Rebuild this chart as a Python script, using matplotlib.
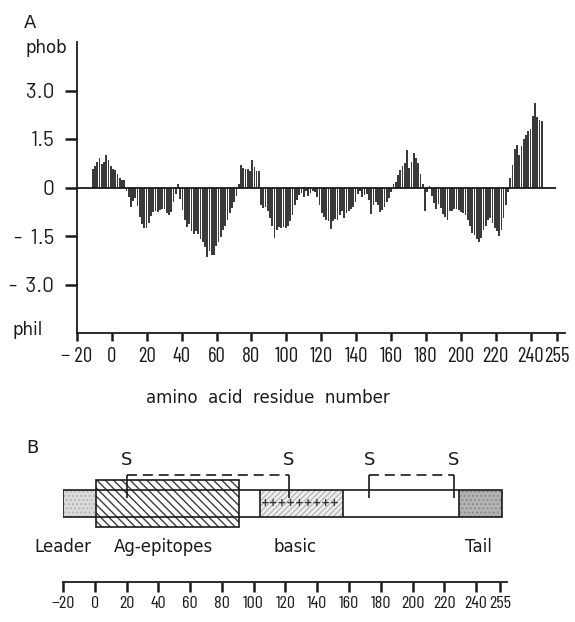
import numpy as np
import matplotlib
matplotlib.use("Agg")
import matplotlib.pyplot as plt
from matplotlib.patches import Rectangle
from matplotlib import font_manager as fm

# ---------------- data ----------------
# Panel A: hydropathy profile (one bar per plotted window position)
hydro = [
    0.58, 0.66, 0.78, 0.9, 0.74, 0.8, 1.02, 0.86, 0.68, 0.56, 0.55, 0.42, 0.28, 0.24, 0.22,
    -0.12, -0.3, -0.6, -0.42, -0.32, -0.58, -0.9, -1.12, -1.25, -1.25, -1.1, -0.88, -0.75,
    -0.72, -0.76, -0.7, -0.66, -0.68, -0.8, -0.84, -0.75, -0.45, -0.2,
    0.12,
    -0.35, -0.7, -1.0, -1.22, -1.12, -1.33, -1.45, -1.33, -1.45, -1.58, -1.68, -1.85, -2.15,
    -1.96, -2.1, -2.08, -1.82, -1.68, -1.52, -1.3, -1.18, -1.0, -0.8, -0.62, -0.45, -0.25,
    0.12, 0.7, 0.6, 0.58, 0.56, 0.5, 0.86, 0.62, 0.5, 0.52,
    -0.55, -0.62, -0.6, -0.72, -0.95, -1.2, -1.55, -1.3, -1.22, -1.26, -1.22, -1.26, -1.18,
    -1.04, -0.85, -0.55, -0.4, -0.22, -0.18, -0.28, -0.1, -0.25, -0.18, -0.1, -0.15, -0.3,
    -0.55, -0.78, -0.9, -1.0, -1.05, -1.28, -1.05, -0.98, -1.0, -0.85, -0.72, -0.95, -0.8,
    -0.72, -0.66, -0.6, -0.45, -0.2, -0.1, -0.3, -0.22, -0.2, -0.38, -0.82, -0.55, -0.45,
    -0.55, -0.75, -0.7, -0.6, -0.45, -0.32, -0.15,
    0.12, 0.18, 0.38, 0.55, 0.68, 0.75, 1.15, 0.6, 0.78, 1.08, 0.9, 0.75, 0.42, 0.1,
    -0.72, -0.15, 0.05, -0.25, -0.48, -0.65, -0.5, -0.62, -0.82, -0.9, -1.0, -0.72, -0.72,
    -0.68, -0.68, -0.7, -0.76, -0.78, -0.85, -1.0, -1.2, -1.4, -1.48, -1.6, -1.7, -1.55,
    -1.3, -1.2, -1.0, -0.95, -1.1, -1.25, -1.35, -1.5, -1.3, -0.95, -0.55, -0.15,
    0.3, 0.7, 1.2, 1.3, 1.02, 1.28, 1.5, 1.62, 1.75, 1.82, 2.2, 2.62, 2.18, 2.1, 2.05,
]
res_first, res_last = -11.0, 246.4

xticks = [-20, 0, 20, 40, 60, 80, 100, 120, 140, 160, 180, 200, 220, 240, 255]
xticklabels_A = ["\u2212 20"] + [str(v) for v in xticks[1:]]
xticklabels_B = ["\u221220"] + [str(v) for v in xticks[1:]]
yticks = [-3.0, -1.5, 0, 1.5, 3.0]
yticklabels = ["-  3.0", "-  1.5", "0", "1.5", "3.0"]

# Panel B: protein domain map
protein_span = (-20, 256)
leader = (-20, 1)
epitopes = (0.8, 90.8)
basic = (104, 156.2)
tail = (229.2, 256)
cys_pairs = [(20.3, 122.2), (172.6, 226.0)]
domain_labels = ["Leader", "Ag-epitopes", "basic", "Tail"]
domain_label_x = [-20, 43.5, 126, 241.5]

# ---------------- fonts ----------------
avail = {f.name for f in fm.fontManager.ttflist}


def pick(cands, default="DejaVu Sans"):
    for c in cands:
        if c in avail:
            return c
    return default


F_COND = pick(["Barlow Condensed", "Roboto Condensed", "Archivo Narrow",
               "PT Sans Narrow", "Fira Sans Condensed", "Liberation Sans"])
F_YNUM = pick(["Barlow", "Barlow Semi Condensed", "Roboto", "Liberation Sans"])
if F_COND == "Barlow Condensed":
    szA, szB = 15, 13
elif F_COND in ("Roboto Condensed", "Archivo Narrow", "PT Sans Narrow",
                "Fira Sans Condensed"):
    szA, szB = 13, 11
else:
    szA, szB = 10.5, 9
szY = 15 if F_YNUM == "Barlow" else 12.5

# ---------------- figure ----------------
W, H = 575, 622
fig = plt.figure(figsize=(W / 100, H / 100), dpi=100)


def px_axes(l, t, r, b):
    return fig.add_axes([l / W, 1 - b / H, (r - l) / W, (b - t) / H])


FS = 12
ink = "#1a1a1a"

# ---- Panel A ----
axA = px_axes(77, 42, 565, 333)
pos = np.linspace(res_first, res_last, len(hydro))
axA.bar(pos, hydro, width=1.0, color="#3a3a3a", linewidth=0)
axA.hlines(0, -20, 254.5, color=ink, lw=1.3)
axA.set_xlim(-20, 259.7)
axA.set_ylim(-4.5, 4.5)
for s in ("top", "right"):
    axA.spines[s].set_visible(False)
for s in ("left", "bottom"):
    axA.spines[s].set_linewidth(1.3)
    axA.spines[s].set_color(ink)
axA.set_xticks(xticks)
axA.set_xticklabels(xticklabels_A, fontsize=szA, family=F_COND)
axA.set_yticks(yticks)
axA.set_yticklabels(yticklabels, fontsize=szY, family=F_YNUM)
axA.tick_params(axis="x", direction="out", length=6, width=1.8, pad=4, colors=ink)
axA.tick_params(axis="y", direction="out", length=8.5, width=1.8, pad=8, colors=ink)

fig.text(30 / W, 1 - 23 / H, "A", ha="center", va="center", fontsize=13, color=ink)
fig.text(46 / W, 1 - 48 / H, "phob", ha="center", va="center", fontsize=FS, color=ink)
fig.text(28 / W, 1 - 330 / H, "phil", ha="center", va="center", fontsize=FS, color=ink)
fig.text(268 / W, 1 - 398 / H, "amino  acid  residue  number", ha="center",
         va="center", fontsize=FS, color=ink)

# ---- Panel B ----
axB = px_axes(63, 430, 507, 582)
axB.set_xlim(-20, 259.4)
axB.set_ylim(0, 152)
for s in ("top", "right", "left"):
    axB.spines[s].set_visible(False)
axB.spines["bottom"].set_linewidth(1.3)
axB.spines["bottom"].set_color(ink)
axB.set_yticks([])
axB.set_xticks(xticks)
axB.set_xticklabels(xticklabels_B, fontsize=szB, family=F_COND)
axB.tick_params(axis="x", direction="out", length=7, width=1.8, pad=3, colors=ink)

y0, y1 = 65, 92      # main bar
ay0, ay1 = 55, 102   # epitope box

# fills
axB.add_patch(Rectangle((leader[0], y0), leader[1] - leader[0], y1 - y0,
                        facecolor="#dcdcdc", edgecolor="#b5b5b5", hatch="....",
                        linewidth=0, zorder=1))
axB.add_patch(Rectangle((tail[0], y0), tail[1] - tail[0], y1 - y0,
                        facecolor="#b4b4b4", edgecolor="#8c8c8c", hatch="....",
                        linewidth=0, zorder=1))
axB.add_patch(Rectangle((basic[0], y0), basic[1] - basic[0], y1 - y0,
                        facecolor="#f0f0f0", edgecolor="#b8b8b8", hatch="//////",
                        linewidth=0, zorder=1))
axB.add_patch(Rectangle((epitopes[0], ay0), epitopes[1] - epitopes[0], ay1 - ay0,
                        facecolor="white", edgecolor="#3c3c3c", hatch="\\\\\\\\",
                        linewidth=0, zorder=2))
# outlines
axB.add_patch(Rectangle((epitopes[0], ay0), epitopes[1] - epitopes[0], ay1 - ay0,
                        fill=False, edgecolor=ink, linewidth=1.2, zorder=4))
axB.add_patch(Rectangle((protein_span[0], y0), protein_span[1] - protein_span[0], y1 - y0,
                        fill=False, edgecolor=ink, linewidth=1.2, zorder=4))
axB.vlines([basic[0], basic[1], tail[0]], y0, y1, color=ink, lw=1.2, zorder=4)
axB.text((basic[0] + basic[1]) / 2 - 1, (y0 + y1) / 2, "+++++++++", ha="center",
         va="center", fontsize=7.5, fontweight="bold", color="#333333", zorder=5)

# disulfide brackets
for a, b in cys_pairs:
    axB.plot([a, b], [107, 107], color=ink, lw=1.2, dashes=(6, 3.5), zorder=5)
    axB.vlines([a, b], 84.5, 107, color=ink, lw=1.2, zorder=5)
    for xs in (a, b):
        axB.text(xs, 122, "S", ha="center", va="center", fontsize=13, color=ink)

for lab, xl in zip(domain_labels, domain_label_x):
    axB.text(xl, 35, lab, ha="center", va="center", fontsize=FS, color=ink,
             clip_on=False)

fig.text(32 / W, 1 - 448 / H, "B", ha="center", va="center", fontsize=13, color=ink)

fig.savefig("out.png", dpi=100)
